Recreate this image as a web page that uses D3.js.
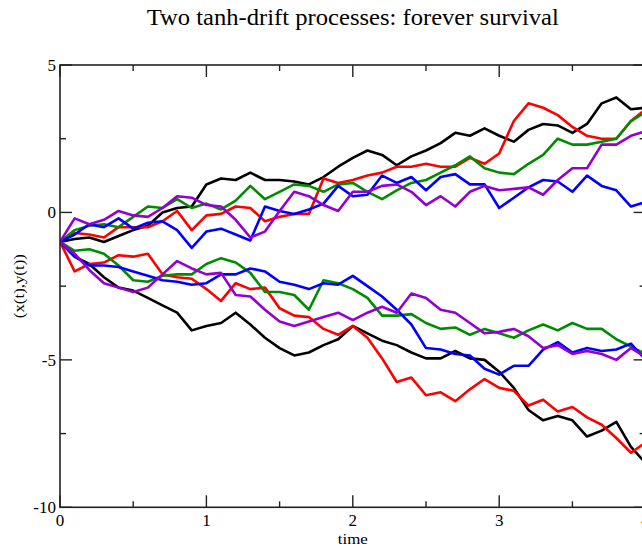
<!DOCTYPE html>
<html><head><meta charset="utf-8">
<script src="https://cdn.jsdelivr.net/npm/d3@7"></script>
<style>body{margin:0;background:#fff}svg{display:block}</style>
</head><body>
<svg id="c" width="642" height="550"></svg>
<script>
const times = [0,0.1,0.2,0.3,0.4,0.5,0.6,0.7,0.8,0.9,1.0,1.1,1.2,1.3,1.4,1.5,1.6,1.7,1.8,1.9,2.0,2.1,2.2,2.3,2.4,2.5,2.6,2.7,2.8,2.9,3.0,3.1,3.2,3.3,3.4,3.5,3.6,3.7,3.8,3.9,4.0];
const xBlack  = [-1.0,-0.9,-0.85,-1.0,-0.8,-0.6,-0.45,0.0,0.15,0.2,0.95,1.15,1.1,1.35,1.1,1.1,1.05,0.95,1.2,1.55,1.85,2.1,1.95,1.6,1.9,2.1,2.35,2.7,2.6,2.85,2.6,2.4,2.8,3.0,2.95,2.7,3.0,3.7,3.9,3.5,3.55];
const xRed    = [-1.0,-0.7,-0.75,-0.85,-0.5,-0.5,-0.5,-0.3,0.05,-0.6,-0.1,-0.05,0.2,0.15,-0.3,-0.15,-0.05,-0.05,1.15,1.0,1.1,1.25,1.35,1.55,1.55,1.65,1.55,1.55,1.85,1.65,2.0,3.1,3.7,3.55,3.3,2.9,2.6,2.5,2.5,3.1,3.5];
const xGreen  = [-1.0,-0.6,-0.45,-0.4,-0.5,-0.15,0.2,0.15,0.45,0.15,0.3,0.1,0.4,0.9,0.45,0.7,0.95,0.9,0.7,0.95,1.0,0.7,0.45,0.75,1.0,1.1,1.35,1.6,1.9,1.5,1.35,1.3,1.65,1.95,2.5,2.3,2.3,2.4,2.5,3.1,3.4];
const xBlue   = [-1.0,-0.75,-0.4,-0.5,-0.2,-0.55,-0.35,-0.3,-0.6,-1.2,-0.65,-0.55,-0.75,-0.95,0.2,0.05,-0.05,0.1,0.3,0.9,0.55,0.6,1.25,1.0,1.2,0.75,1.2,1.3,0.95,0.95,0.15,0.5,0.85,1.1,1.05,0.7,1.25,0.9,0.75,0.2,0.35];
const xPurple = [-1.0,-0.2,-0.4,-0.25,0.05,-0.1,-0.15,0.15,0.55,0.5,0.25,0.2,-0.25,-0.85,-0.65,0.05,0.7,0.55,0.25,0.05,0.7,0.7,0.9,0.95,0.7,0.25,0.55,0.2,0.7,0.9,0.75,0.8,0.85,0.6,1.1,1.5,1.5,2.3,2.3,2.6,2.75];
const yBlack  = [-1.0,-1.5,-1.75,-2.2,-2.55,-2.65,-2.9,-3.15,-3.4,-4.0,-3.85,-3.75,-3.4,-3.8,-4.25,-4.6,-4.85,-4.75,-4.5,-4.3,-3.85,-4.1,-4.35,-4.5,-4.75,-4.95,-4.95,-4.7,-4.95,-5.0,-5.4,-5.95,-6.7,-7.05,-6.9,-7.05,-7.6,-7.4,-7.1,-7.95,-8.5];
const yRed    = [-1.0,-2.0,-1.75,-1.7,-1.45,-1.5,-1.4,-2.1,-2.2,-2.25,-2.6,-3.0,-2.4,-2.6,-2.55,-3.25,-3.5,-3.55,-3.95,-4.15,-3.85,-4.25,-4.95,-5.75,-5.6,-6.2,-6.1,-6.4,-6.0,-5.65,-5.95,-6.05,-6.55,-6.35,-6.75,-6.6,-6.95,-7.2,-7.65,-8.15,-7.8];
const yGreen  = [-1.0,-1.3,-1.25,-1.4,-1.8,-2.3,-2.35,-2.15,-2.1,-2.1,-1.75,-1.55,-1.7,-2.05,-2.7,-2.7,-2.8,-3.3,-2.3,-2.4,-2.6,-2.9,-3.5,-3.5,-3.45,-3.75,-3.95,-3.9,-4.15,-3.95,-4.1,-4.25,-4.0,-3.8,-4.0,-3.75,-3.95,-3.95,-4.3,-4.55,-4.8];
const yBlue   = [-1.0,-1.5,-1.8,-1.8,-1.85,-2.0,-2.15,-2.3,-2.35,-2.45,-2.4,-2.1,-2.1,-1.9,-2.0,-2.35,-2.45,-2.6,-2.4,-2.45,-2.15,-2.5,-2.85,-3.3,-3.8,-4.6,-4.65,-4.8,-4.85,-5.3,-5.5,-5.2,-5.2,-4.65,-4.4,-4.75,-4.6,-4.7,-4.65,-4.45,-5.0];
const yPurple = [-1.0,-1.4,-1.95,-2.4,-2.55,-2.7,-2.55,-2.1,-1.65,-1.9,-2.1,-2.05,-2.8,-2.85,-3.3,-3.7,-3.85,-3.7,-3.55,-3.4,-3.65,-3.4,-3.2,-3.4,-2.75,-2.9,-3.3,-3.4,-3.75,-4.1,-4.05,-3.95,-4.2,-4.6,-4.5,-4.8,-4.7,-4.8,-5.0,-4.6,-4.9];

const xTicks = [0,1,2,3,4];
const yTicks = [5,0,-5,-10];
const xMinor = [0.5,1.5,2.5,3.5];
const yMinor = [2.5,-2.5,-7.5];

const series = [
  {c:"#000000", v:xBlack},{c:"#ff0000", v:xRed},{c:"#008b00", v:xGreen},{c:"#0000ff", v:xBlue},{c:"#9400d3", v:xPurple},
  {c:"#000000", v:yBlack},{c:"#ff0000", v:yRed},{c:"#008b00", v:yGreen},{c:"#0000ff", v:yBlue},{c:"#9400d3", v:yPurple}
];

const L=60, T=65, R=645.6, B=507.3;
const x = d3.scaleLinear().domain([0,4]).range([L,R]);
const y = d3.scaleLinear().domain([-10,5]).range([B,T]);
const svg = d3.select("#c");
const font = "'Liberation Serif','Times New Roman',serif";

svg.append("defs").append("clipPath").attr("id","pc").append("rect")
  .attr("x",L).attr("y",T).attr("width",R-L).attr("height",B-T);

const line = d3.line().x((d,i)=>x(times[i])).y(d=>y(d));
const g = svg.append("g").attr("clip-path","url(#pc)");
series.forEach(s=>{
  g.append("path").attr("d",line(s.v)).attr("fill","none")
   .attr("stroke",s.c).attr("stroke-width",2.6).attr("stroke-linejoin","round");
});

// frame
svg.append("rect").attr("x",L).attr("y",T).attr("width",R-L).attr("height",B-T)
  .attr("fill","none").attr("stroke","#222").attr("stroke-width",1.6);

const tk = svg.append("g").attr("stroke","#222").attr("stroke-width",1.4);
xTicks.forEach(t=>{
  tk.append("line").attr("x1",x(t)).attr("x2",x(t)).attr("y1",B).attr("y2",B-12);
  tk.append("line").attr("x1",x(t)).attr("x2",x(t)).attr("y1",T).attr("y2",T+12);
});
xMinor.forEach(t=>{
  tk.append("line").attr("x1",x(t)).attr("x2",x(t)).attr("y1",B).attr("y2",B-6);
  tk.append("line").attr("x1",x(t)).attr("x2",x(t)).attr("y1",T).attr("y2",T+6);
});
yTicks.forEach(t=>{
  tk.append("line").attr("x1",L).attr("x2",L+12).attr("y1",y(t)).attr("y2",y(t));
  tk.append("line").attr("x1",R).attr("x2",R-12).attr("y1",y(t)).attr("y2",y(t));
});
yMinor.forEach(t=>{
  tk.append("line").attr("x1",L).attr("x2",L+6).attr("y1",y(t)).attr("y2",y(t));
  tk.append("line").attr("x1",R).attr("x2",R-6).attr("y1",y(t)).attr("y2",y(t));
});

xTicks.forEach(t=>{
  svg.append("text").attr("x",x(t)).attr("y",B+19).attr("text-anchor","middle")
    .attr("font-family",font).attr("font-size",17).text(t);
});
yTicks.forEach(t=>{
  svg.append("text").attr("x",L-4).attr("y",y(t)+6).attr("text-anchor","end")
    .attr("font-family",font).attr("font-size",17).text(t);
});

svg.append("text").attr("x",(L+R)/2).attr("y",25).attr("text-anchor","middle")
  .attr("font-family",font).attr("font-size",23)
  .attr("textLength",412).attr("lengthAdjust","spacingAndGlyphs")
  .text("Two tanh-drift processes: forever survival");
svg.append("text").attr("x",(L+R)/2).attr("y",544).attr("text-anchor","middle")
  .attr("font-family",font).attr("font-size",15)
  .attr("textLength",30).attr("lengthAdjust","spacingAndGlyphs").text("time");
svg.append("text").attr("transform",`translate(24,${(T+B)/2}) rotate(-90)`).attr("text-anchor","middle")
  .attr("font-family",font).attr("font-size",15)
  .attr("textLength",64).attr("lengthAdjust","spacingAndGlyphs").text("(x(t),y(t))");
</script>
</body></html>
